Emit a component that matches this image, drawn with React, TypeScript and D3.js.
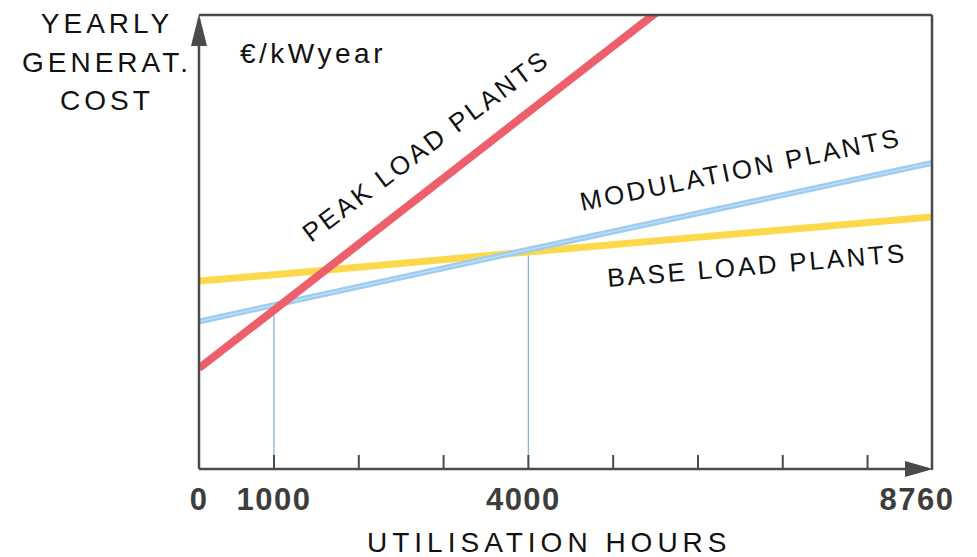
import React from "react";
import * as d3 from "d3";

// ---- data (cost in arbitrary units 0..100) ----
const hours = [0, 1000, 4000, 8760];
const peakCost = [22.2, 35.0, 78.6, 147.8];
const modulationCost = [32.5, 36.1, 48.3, 67.4];
const baseCost = [41.4, 42.8, 47.8, 55.5];
const dropHours = [1000, 4000];
const dropCost = [35.4, 48.2];
const tickHours = [1000, 2000, 3000, 4000, 5000, 6000, 7000, 8000];
const tickLabels = ["0", "1000", "4000", "8760"];
const tickLabelHours = [0, 1000, 4000, 8760];

const W = 977;
const H = 557;
const X0 = 199;
const X1 = 932;
const Y0 = 469;
const Y1 = 15;

export default function App() {
  const x = d3.scaleLinear().domain([0, 1000, 8760]).range([X0, 274, X1]);
  const y = d3.scaleLinear().domain([0, 100]).range([Y0, Y1]);
  const line = d3
    .line<[number, number]>()
    .x((d) => x(d[0]))
    .y((d) => y(d[1]));
  const pts = (vals: number[]) => hours.map((h, i) => [h, vals[i]] as [number, number]);
  const axisColor = "#4a4a4a";
  const sans = "'Liberation Sans', Arial, sans-serif";

  return (
    <svg width={W} height={H} style={{ position: "absolute", left: 0, top: 0, background: "#fff" }}>
      <defs>
        <clipPath id="plot">
          <rect x={X0} y={Y1} width={X1 - X0} height={Y0 - Y1} />
        </clipPath>
      </defs>

      {/* drop lines */}
      {dropHours.map((h, i) => (
        <line key={h} x1={x(h)} x2={x(h)} y1={y(dropCost[i])} y2={Y0} stroke="#86b6da" strokeWidth={1.3} />
      ))}

      <g clipPath="url(#plot)">
        <path d={line(pts(baseCost)) || ""} fill="none" stroke="#fcd94c" strokeWidth={7} />
        <path d={line(pts(modulationCost)) || ""} fill="none" stroke="#9fcdf1" strokeWidth={6} />
        <path d={line(pts(modulationCost)) || ""} fill="none" stroke="#ffffff" strokeOpacity={0.45} strokeWidth={1} />
        <path d={line(pts(peakCost)) || ""} fill="none" stroke="#ee5f6c" strokeWidth={8} />
      </g>

      {/* frame / axes */}
      <line x1={X0} x2={X0} y1={Y0} y2={Y1 + 4} stroke={axisColor} strokeWidth={2.5} />
      <line x1={X0} x2={X1} y1={Y1} y2={Y1} stroke={axisColor} strokeWidth={2.5} />
      <line x1={X1} x2={X1} y1={Y1} y2={Y0 + 1} stroke={axisColor} strokeWidth={2.5} />
      <line x1={X0} x2={X1 - 4} y1={Y0} y2={Y0} stroke={axisColor} strokeWidth={2.5} />
      <polygon points={`${X0},${Y1 - 1} ${X0 - 8},${Y1 + 31} ${X0 + 8},${Y1 + 31}`} fill={axisColor} />
      <polygon points={`${X1 + 1},${Y0} ${X1 - 27},${Y0 - 8} ${X1 - 27},${Y0 + 8}`} fill={axisColor} />
      {tickHours.map((h) => (
        <line key={h} x1={x(h)} x2={x(h)} y1={Y0} y2={Y0 - 14} stroke={axisColor} strokeWidth={2} />
      ))}

      {/* tick labels */}
      {tickLabels.map((t, i) => (
        <text
          key={t}
          x={x(tickLabelHours[i]) + (i === 3 ? -15 : i === 2 ? -5 : 0)}
          y={510}
          textAnchor="middle"
          fontFamily={sans}
          fontWeight="bold"
          fontSize={31}
          letterSpacing={1.5}
          fill="#3d3d3d"
        >
          {t}
        </text>
      ))}

      <text x={367} y={552} fontFamily={sans} fontSize={28} letterSpacing={5} fill="#111">
        UTILISATION HOURS
      </text>

      {/* y title */}
      {["YEARLY", "GENERAT.", "COST"].map((t, i) => (
        <text
          key={t}
          x={107}
          y={33 + i * 38.5}
          textAnchor="middle"
          fontFamily={sans}
          fontSize={28}
          letterSpacing={4}
          fill="#111"
        >
          {t}
        </text>
      ))}
      <text x={240} y={63} fontFamily={sans} fontSize={28} letterSpacing={3.5} fill="#111">
        €/kWyear
      </text>

      {/* line labels */}
      <text
        transform="translate(311,243) rotate(-36.8)"
        fontFamily={sans}
        fontSize={26}
        letterSpacing={2.8}
        fill="#111"
      >
        PEAK LOAD PLANTS
      </text>
      <text
        transform="translate(582,211) rotate(-11.5)"
        fontFamily={sans}
        fontSize={26}
        letterSpacing={2.8}
        fill="#111"
      >
        MODULATION PLANTS
      </text>
      <text
        transform="translate(608,287) rotate(-4.8)"
        fontFamily={sans}
        fontSize={26}
        letterSpacing={2.8}
        fill="#111"
      >
        BASE LOAD PLANTS
      </text>
    </svg>
  );
}
